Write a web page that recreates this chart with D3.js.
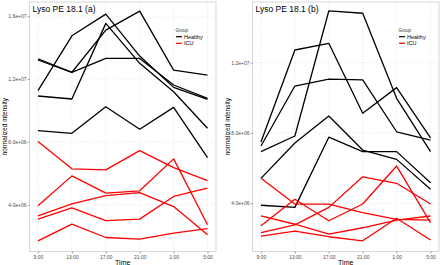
<!DOCTYPE html>
<html lang="en">
<head>
<meta charset="UTF-8">
<title>Lyso PE 18.1</title>
<script src="https://d3js.org/d3.v7.min.js"></script>
<style>
    body { margin: 0; background: #fff; }
    svg { display: block; font-family: "Liberation Sans", Arial, sans-serif; }
</style>
</head>
<body>
<div id="chart"></div>
<script>
    // x categories (sampling time)
    const times = ["9:00", "13:00", "17:00", "21:00", "1:00", "5:00"];

    // panel (a) - one array per subject
    const healthyA = [
        [8.72e6, 8.55e6, 10.24e6, 8.81e6, 10.20e6, 7.00e6],
        [11.26e6, 14.75e6, 16.13e6, 13.46e6, 11.47e6, 10.71e6],
        [10.92e6, 10.73e6, 15.54e6, 13.00e6, 11.19e6, 8.87e6],
        [13.29e6, 12.43e6, 13.31e6, 13.31e6, 11.62e6, 10.77e6],
        [13.21e6, 12.43e6, 15.11e6, 16.32e6, 12.57e6, 12.25e6]
    ];
    const icuA = [
        [8.02e6, 6.29e6, 6.22e6, 7.45e6, 6.37e6, 5.54e6],
        [3.94e6, 5.84e6, 4.74e6, 4.89e6, 6.92e6, 2.73e6],
        [3.30e6, 4.06e6, 4.59e6, 4.78e6, 3.89e6, 2.10e6],
        [3.09e6, 3.81e6, 3.00e6, 3.09e6, 4.53e6, 5.06e6],
        [1.71e6, 2.77e6, 1.92e6, 1.82e6, 2.20e6, 2.48e6]
    ];

    // panel (b)
    const healthyB = [
        [6.94e6, 7.83e6, 14.94e6, 14.81e6, 9.97e6, 6.94e6],
        [7.49e6, 12.72e6, 13.10e6, 9.12e6, 10.58e6, 7.72e6],
        [7.26e6, 10.67e6, 11.06e6, 11.02e6, 8.07e6, 7.60e6],
        [5.42e6, 7.43e6, 8.97e6, 7.03e6, 6.50e6, 4.80e6],
        [3.89e6, 3.77e6, 7.76e6, 6.94e6, 6.94e6, 5.17e6]
    ];
    const icuB = [
        [5.42e6, 3.96e6, 3.96e6, 3.47e6, 3.09e6, 3.05e6],
        [2.73e6, 4.23e6, 3.01e6, 3.96e6, 6.12e6, 2.90e6],
        [3.28e6, 2.81e6, 2.25e6, 2.61e6, 3.05e6, 3.28e6],
        [2.33e6, 2.77e6, 3.77e6, 5.51e6, 5.14e6, 3.96e6],
        [2.14e6, 2.42e6, 2.10e6, 1.87e6, 3.15e6, 1.91e6]
    ];

    const yTicksA = [4e6, 8e6, 1.2e7, 1.6e7];
    const yTickLabelsA = ["4.0e+06", "8.0e+06", "1.2e+07", "1.6e+07"];
    const yTicksB = [4e6, 8e6, 1.2e7];
    const yTickLabelsB = ["4.0e+06", "8.0e+06", "1.2e+07"];

    const groups = ["Healthy", "ICU"];
    const colors = { Healthy: "#000000", ICU: "#ff0000" };

    const W = 440, H = 265;
    const svg = d3.select("#chart").append("svg")
        .attr("width", W).attr("height", H);

    const panels = [
        { title: "Lyso PE 18.1 (a)", left: 29.5, right: 216, healthy: healthyA, icu: icuA,
          domain: [1.03e6, 16.9e6], ticks: yTicksA, labels: yTickLabelsA },
        { title: "Lyso PE 18.1 (b)", left: 252.5, right: 439, healthy: healthyB, icu: icuB,
          domain: [1.26e6, 15.45e6], ticks: yTicksB, labels: yTickLabelsB }
    ];
    const panelTop = 2, panelBottom = 251.5;

    panels.forEach(p => {
        const x = d3.scalePoint().domain(times).range([p.left, p.right]).padding(0.25);
        const y = d3.scaleLinear().domain(p.domain).range([panelBottom, panelTop]);
        const g = svg.append("g");

        // grid
        g.selectAll(".gx").data(times).enter().append("line")
            .attr("x1", d => x(d)).attr("x2", d => x(d))
            .attr("y1", panelTop).attr("y2", panelBottom)
            .attr("stroke", "#e3e3e3").attr("stroke-width", 0.6)
            .attr("stroke-dasharray", "1.5,1.5");
        g.selectAll(".gy").data(p.ticks).enter().append("line")
            .attr("x1", p.left).attr("x2", p.right)
            .attr("y1", d => y(d)).attr("y2", d => y(d))
            .attr("stroke", "#e3e3e3").attr("stroke-width", 0.6)
            .attr("stroke-dasharray", "1.5,1.5");

        // lines
        const line = d3.line().x((d, i) => x(times[i])).y(d => y(d));
        const series = p.healthy.map(v => ({ g: "Healthy", v }))
            .concat(p.icu.map(v => ({ g: "ICU", v })));
        g.selectAll(".series").data(series).enter().append("path")
            .attr("d", d => line(d.v))
            .attr("fill", "none")
            .attr("stroke", d => colors[d.g])
            .attr("stroke-width", 1.3)
            .attr("stroke-linejoin", "round");

        // panel border
        g.append("rect")
            .attr("x", p.left).attr("y", panelTop)
            .attr("width", p.right - p.left).attr("height", panelBottom - panelTop)
            .attr("fill", "none").attr("stroke", "#bdbdbd").attr("stroke-width", 0.6);

        // y axis
        const ya = g.append("g").attr("transform", `translate(${p.left},0)`)
            .call(d3.axisLeft(y).tickValues(p.ticks)
                .tickFormat((d, i) => p.labels[i]).tickSize(2).tickPadding(1));
        ya.select(".domain").remove();
        ya.selectAll("line").attr("stroke", "#4d4d4d").attr("stroke-width", 0.5);
        ya.selectAll("text").attr("fill", "#4d4d4d").style("font-size", "5px");

        // x axis
        const xa = g.append("g").attr("transform", `translate(0,${panelBottom})`)
            .call(d3.axisBottom(x).tickSize(2).tickPadding(1.5));
        xa.select(".domain").remove();
        xa.selectAll("line").attr("stroke", "#4d4d4d").attr("stroke-width", 0.5);
        xa.selectAll("text").attr("fill", "#4d4d4d").style("font-size", "5px");

        // axis titles
        g.append("text")
            .attr("x", (p.left + p.right) / 2).attr("y", 264.5)
            .attr("text-anchor", "middle").style("font-size", "7px")
            .text("Time");
        g.append("text")
            .attr("transform", `translate(${p.left - 22.5},${(panelTop + panelBottom) / 2}) rotate(-90)`)
            .attr("text-anchor", "middle").style("font-size", "6.5px")
            .text("normalized intensity");

        // title inside panel
        g.append("text")
            .attr("x", p.left + 3).attr("y", 11.5)
            .style("font-size", "8.5px")
            .text(p.title);

        // legend
        const lg = g.append("g").attr("transform", `translate(${p.right - 40.5},0)`);
        lg.append("text").attr("x", 0).attr("y", 31.5)
            .style("font-size", "4.5px").attr("fill", "#333").text("Group");
        groups.forEach((grp, i) => {
            const yy = 36.7 + i * 6.6;
            lg.append("line")
                .attr("x1", 0.5).attr("x2", 6.5).attr("y1", yy).attr("y2", yy)
                .attr("stroke", colors[grp]).attr("stroke-width", 1.2);
            lg.append("text").attr("x", 8.5).attr("y", yy + 1.8)
                .style("font-size", "5.5px").text(grp);
        });
    });
</script>
</body>
</html>
